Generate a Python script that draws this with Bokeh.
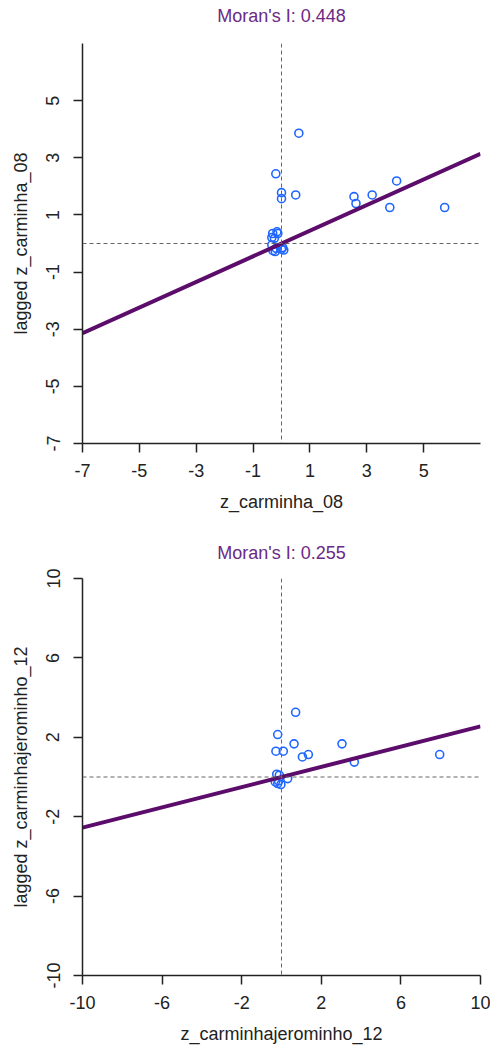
from bokeh.plotting import figure
from bokeh.layouts import column
from bokeh.models import Range1d, FixedTicker, Span
from bokeh.core.properties import value
from bokeh.embed import file_html
from bokeh.resources import INLINE

# Standardised 2008 values and their spatial lags
x_08 = [0.61, -0.20, 0.00, 0.00, 0.50, 2.55, 2.62, 3.19, 4.05, 3.81, 5.74,
        -0.34, -0.13, -0.31, -0.16, -0.25, -0.34, -0.19, 0.04, 0.08, -0.30, -0.22, 0.00]
lag_08 = [3.86, 2.44, 1.78, 1.57, 1.70, 1.64, 1.40, 1.70, 2.19, 1.26, 1.26,
          0.21, 0.35, 0.35, 0.41, 0.18, -0.05, -0.17, -0.14, -0.23, -0.25, -0.28, -0.20]

# Standardised 2012 values and their spatial lags
x_12 = [0.71, -0.19, -0.28, 0.09, 0.63, 1.05, 1.35, 3.04, 3.66, 7.95,
        -0.24, -0.11, -0.19, -0.03, -0.31, 0.31, -0.15]
lag_12 = [3.26, 2.14, 1.30, 1.30, 1.67, 1.01, 1.13, 1.67, 0.75, 1.13,
          0.14, 0.09, -0.33, -0.38, -0.25, -0.08, -0.20]

moran_08 = 0.448
moran_12 = 0.255

ticks_08 = [-7, -5, -3, -1, 1, 3, 5]
ticks_12 = [-10, -6, -2, 2, 6, 10]

FONT = "Liberation Sans"
LINE_COL = "#5c0c6a"
TITLE_COL = "#6b2a85"
PT_COL = "#1f66ff"
INK = "#222222"


def heading(slope, lim, height):
    """Thin strip carrying the Moran's I statistic, centred over the plot frame."""
    h = figure(width=490, height=height, output_backend="svg", toolbar_location=None,
               x_range=Range1d(-lim, lim), y_range=Range1d(0, 1),
               x_axis_type=None, y_axis_type=None,
               min_border_left=82, min_border_right=10,
               min_border_top=0, min_border_bottom=0)
    h.outline_line_color = None
    h.xgrid.visible = False
    h.ygrid.visible = False
    h.text(x=[0], y=[0.5], text=["Moran's I: %.3f" % slope],
           text_font=value(FONT), text_font_size="18px", text_color=TITLE_COL,
           text_align="center", text_baseline="middle")
    return h


def moran_panel(xs, ys, slope, lim, ticks, xlab, ylab, height, top, bottom):
    p = figure(width=490, height=height, output_backend="svg", toolbar_location=None,
               x_range=Range1d(-lim, lim), y_range=Range1d(-lim, lim),
               min_border_left=82, min_border_right=10,
               min_border_top=top, min_border_bottom=bottom)
    p.outline_line_color = None
    p.xgrid.visible = False
    p.ygrid.visible = False

    # plain hyphen-minus tick labels
    labels = {t: str(t) for t in ticks}

    for ax, lab in ((p.xaxis[0], xlab), (p.yaxis[0], ylab)):
        ax.ticker = FixedTicker(ticks=ticks)
        ax.major_label_overrides = labels
        ax.axis_label = lab
        ax.axis_label_text_font = FONT
        ax.axis_label_text_font_size = "18px"
        ax.axis_label_text_font_style = "normal"
        ax.axis_label_text_color = INK
        ax.major_label_text_font = FONT
        ax.major_label_text_font_size = "18px"
        ax.major_label_text_color = INK
        ax.minor_tick_line_color = None
        ax.major_tick_in = 0
        ax.major_tick_out = 9
        ax.major_tick_line_width = 1.5
        ax.axis_line_width = 1.5
        ax.axis_line_color = INK
        ax.major_tick_line_color = INK
    p.xaxis[0].major_label_standoff = 11
    p.xaxis[0].axis_label_standoff = 12
    p.yaxis[0].major_label_standoff = 14
    p.yaxis[0].axis_label_standoff = 13
    p.yaxis[0].major_label_orientation = "vertical"

    p.add_layout(Span(location=0, dimension="width", line_color="#666666",
                      line_dash="4 3", line_width=1))
    p.add_layout(Span(location=0, dimension="height", line_color="#666666",
                      line_dash="4 3", line_width=1))

    p.scatter(xs, ys, marker="circle", size=8, fill_color=None,
              line_color=PT_COL, line_width=1.6)

    p.line([-lim, lim], [-lim * slope, lim * slope], line_color=LINE_COL, line_width=4)
    return p


h1 = heading(moran_08, 7, 30)
p1 = moran_panel(x_08, lag_08, moran_08, 7, ticks_08,
                 "z_carminha_08", "lagged z_carminha_08", 506, 13, 93)
h2 = heading(moran_12, 10, 32)
p2 = moran_panel(x_12, lag_12, moran_12, 10, ticks_12,
                 "z_carminhajerominho_12", "lagged z_carminhajerominho_12", 482, 10, 75)

layout = column(h1, p1, h2, p2, spacing=0)
open("out.html", "w").write(file_html(layout, INLINE))
